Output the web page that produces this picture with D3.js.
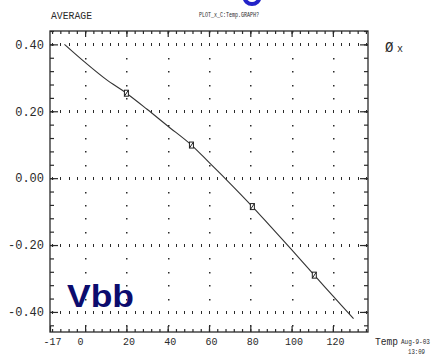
<!DOCTYPE html>
<html>
<head>
<meta charset="utf-8">
<script src="https://cdn.jsdelivr.net/npm/d3@7"></script>
<style>
  html, body { margin: 0; padding: 0; background: #fff; }
  svg { display: block; }
  .plot text.mono { font-family: "Liberation Mono", "DejaVu Sans Mono", monospace; fill: #2a2a2a; }
</style>
</head>
<body>
<div id="chart"></div>
<script>
// ─── Data ───────────────────────────────────────────────────
const tempX = [-10, 0, 10, 20, 30, 40, 51.5, 60, 68, 81, 90, 100, 111, 120, 130];
const averageY = [0.40, 0.346, 0.296, 0.254, 0.206, 0.156, 0.099, 0.047, -0.002, -0.085, -0.146, -0.214, -0.29, -0.352, -0.42];

const markerX = [20, 51.5, 81, 111];
const markerY = [0.254, 0.099, -0.085, -0.29];

const xTickValues = [-17, 0, 20, 40, 60, 80, 100, 120];
const xTickLabels = ["-17", "0", "20", "40", "60", "80", "100", "120"];
const yTickValues = [0.4, 0.2, 0, -0.2, -0.4];
const yTickLabels = ["0.40", "0.20", "0.00", "-0.20", "-0.40"];

// ─── Layout ─────────────────────────────────────────────────
const W = 434, H = 356;
const frame = { left: 50, right: 368, top: 31, bottom: 332 };

const svg = d3.select("#chart").append("svg")
  .attr("class", "plot")
  .attr("width", W)
  .attr("height", H);

const x = d3.scaleLinear().domain([-17, 137]).range([frame.left, frame.right]);
const y = d3.scaleLinear().domain([-0.46, 0.44]).range([frame.bottom, frame.top]);

const xMinor = d3.range(-16, 137, 4);
const yMinor = d3.range(-11, 12).map(k => +(k * 0.04).toFixed(2));
const xMajor = xTickValues.filter(v => v >= 0);

const ink = "#2a2a2a";

// ─── Dotted grid ────────────────────────────────────────────
const grid = svg.append("g").attr("fill", ink);
yTickValues.forEach(v => {
  grid.selectAll(null)
    .data(xMinor)
    .enter()
    .append("rect")
    .attr("x", d => Math.round(x(d)))
    .attr("y", Math.round(y(v)) - 1)
    .attr("width", 1)
    .attr("height", 3);
});
xMajor.forEach(v => {
  grid.selectAll(null)
    .data(yMinor.filter(d => !yTickValues.some(t => Math.abs(t - d) < 1e-9)))
    .enter()
    .append("rect")
    .attr("x", Math.round(x(v)))
    .attr("y", d => Math.round(y(d)))
    .attr("width", 1.5)
    .attr("height", 1.5);
});

// ─── Frame + axes (ticks point inward) ──────────────────────
function styleAxis(g) {
  g.select(".domain").remove();
  g.selectAll(".tick line").attr("stroke", ink).attr("stroke-width", 1.2);
  g.selectAll(".tick text").attr("class", "mono");
  return g;
}

// left
svg.append("g").attr("transform", `translate(${frame.left},0)`)
  .call(d3.axisLeft(y).tickValues(yMinor).tickSize(-4).tickFormat(""))
  .call(styleAxis);
svg.append("g").attr("transform", `translate(${frame.left},0)`)
  .call(d3.axisLeft(y).tickValues(yTickValues).tickSize(-8).tickPadding(6)
    .tickFormat((d, i) => yTickLabels[i]))
  .call(styleAxis)
  .selectAll("text").attr("font-size", 12);

// right
svg.append("g").attr("transform", `translate(${frame.right},0)`)
  .call(d3.axisRight(y).tickValues(yMinor).tickSize(-4).tickFormat(""))
  .call(styleAxis);
svg.append("g").attr("transform", `translate(${frame.right},0)`)
  .call(d3.axisRight(y).tickValues(yTickValues).tickSize(-8).tickFormat(""))
  .call(styleAxis);

// bottom
svg.append("g").attr("transform", `translate(0,${frame.bottom})`)
  .call(d3.axisBottom(x).tickValues(xMinor).tickSize(-3).tickFormat(""))
  .call(styleAxis);
svg.append("g").attr("transform", `translate(0,${frame.bottom})`)
  .call(d3.axisBottom(x).tickValues(xTickValues).tickSize(-6).tickPadding(6)
    .tickFormat((d, i) => xTickLabels[i]))
  .call(styleAxis)
  .selectAll("text").attr("font-size", 10).attr("dx", (d, i) => i === 1 ? -5 : 2);

// top
svg.append("g").attr("transform", `translate(0,${frame.top})`)
  .call(d3.axisTop(x).tickValues(xMinor).tickSize(-3).tickFormat(""))
  .call(styleAxis);
svg.append("g").attr("transform", `translate(0,${frame.top})`)
  .call(d3.axisTop(x).tickValues(xMajor).tickSize(-6).tickFormat(""))
  .call(styleAxis);

svg.append("rect")
  .attr("x", frame.left).attr("y", frame.top)
  .attr("width", frame.right - frame.left)
  .attr("height", frame.bottom - frame.top)
  .attr("fill", "none")
  .attr("stroke", ink)
  .attr("stroke-width", 1.3);

// ─── Series ─────────────────────────────────────────────────
const points = tempX.map((t, i) => [t, averageY[i]]);
const line = d3.line().x(d => x(d[0])).y(d => y(d[1])).curve(d3.curveCatmullRom.alpha(0.5));

svg.append("path")
  .datum(points)
  .attr("d", line)
  .attr("fill", "none")
  .attr("stroke", "#333")
  .attr("stroke-width", 1.1);

const markers = svg.append("g").attr("stroke", "#222").attr("fill", "#fff").attr("stroke-width", 1);
markers.selectAll("rect")
  .data(markerX.map((t, i) => [t, markerY[i]]))
  .enter()
  .append("rect")
  .attr("x", d => x(d[0]) - 2)
  .attr("y", d => y(d[1]) - 3)
  .attr("width", 4)
  .attr("height", 6);
markers.selectAll("line")
  .data(markerX.map((t, i) => [t, markerY[i]]))
  .enter()
  .append("line")
  .attr("x1", d => x(d[0]) - 2)
  .attr("y1", d => y(d[1]) + 3)
  .attr("x2", d => x(d[0]) + 2)
  .attr("y2", d => y(d[1]) - 3);

// ─── Labels ─────────────────────────────────────────────────
function label(xp, yp, size, txt, len) {
  const t = svg.append("text").attr("class", "mono")
    .attr("x", xp).attr("y", yp).attr("font-size", size).text(txt);
  if (len) t.attr("textLength", len).attr("lengthAdjust", "spacingAndGlyphs");
  return t;
}
label(51, 19, 11, "AVERAGE", 41);
label(199, 17, 7, "PLOT_x_C:Temp.GRAPH?", 60);

// legend: symbol + series name
label(385, 52, 14, "Ø");
label(397, 52, 10, "x");

label(375, 345, 11, "Temp", 23);
label(401, 344, 6.5, "Aug-9-03", 29);
label(408, 354, 8, "13:09", 17);

// cropped blue lettering at the top edge
svg.append("ellipse")
  .attr("cx", 252).attr("cy", -3).attr("rx", 7.5).attr("ry", 7)
  .attr("fill", "none").attr("stroke", "#2323c8").attr("stroke-width", 4);

svg.append("text").attr("x", 67).attr("y", 307)
  .attr("font-family", "Liberation Sans, Arial, sans-serif")
  .attr("font-weight", "bold")
  .attr("font-size", 31)
  .attr("textLength", 67)
  .attr("lengthAdjust", "spacingAndGlyphs")
  .attr("fill", "#0c0c6e")
  .text("Vbb");
</script>
</body>
</html>
